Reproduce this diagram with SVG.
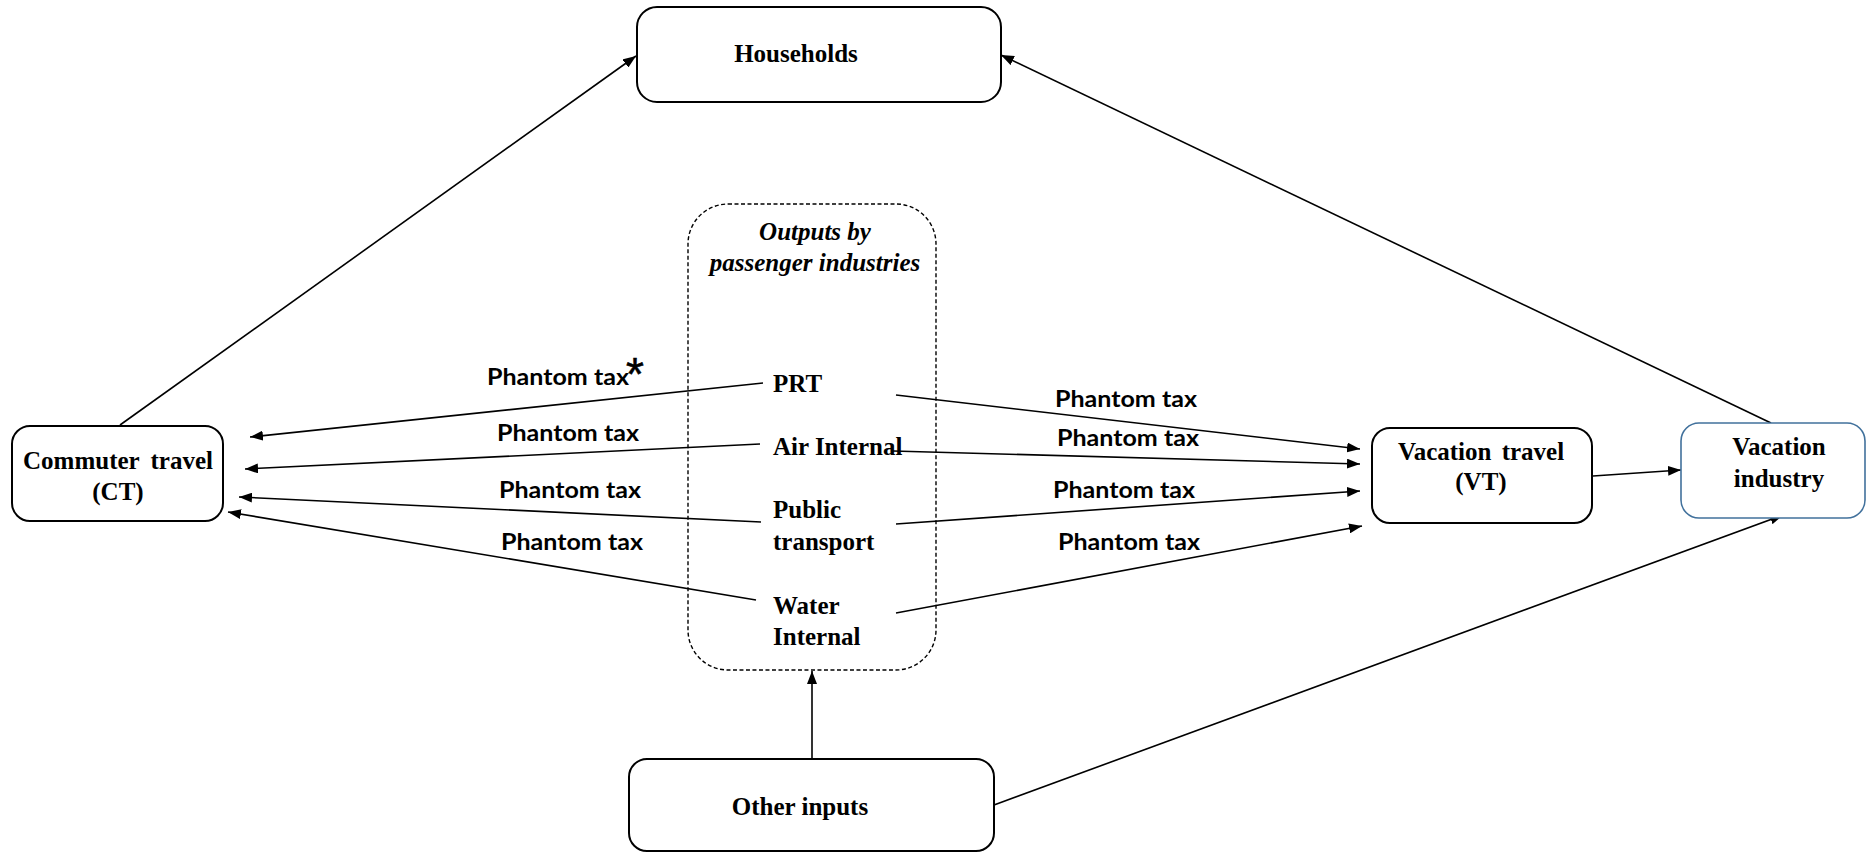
<svg xmlns="http://www.w3.org/2000/svg" width="1867" height="853" viewBox="0 0 1867 853">
<style>
.box{fill:#fff;stroke:#000;stroke-width:2}
.blue{fill:#fff;stroke:#41719C;stroke-width:1.6}
.dash{fill:none;stroke:#000;stroke-width:1.4;stroke-dasharray:4 2.5}
.t{font-family:"Liberation Serif","Times New Roman",serif;font-weight:bold;font-size:25px;fill:#000}
.ti{font-family:"Liberation Serif","Times New Roman",serif;font-weight:bold;font-style:italic;font-size:25px;fill:#000}
.lab{font-family:Lato,"Liberation Sans",sans-serif;font-weight:bold;font-size:22px;fill:#000}
.ast{font-family:"Liberation Sans",Arial,sans-serif;font-weight:normal;font-size:46px;fill:#000;stroke:#000;stroke-width:0.6}
.c{fill:none;stroke:#000;stroke-width:1.6;marker-end:url(#ah)}
</style>
<defs>
<marker id="ah" viewBox="0 0 13 10" refX="13" refY="5" markerWidth="13" markerHeight="10" orient="auto" markerUnits="userSpaceOnUse">
<path d="M0,0 L13,5 L0,10 z" fill="#000"/>
</marker>
</defs>
<rect width="1867" height="853" fill="#fff"/>

<g id="connectors">
<line class="c" x1="120" y1="425" x2="636" y2="56"/>
<line class="c" x1="1771" y1="423" x2="1001" y2="55"/>
<line class="c" x1="1593" y1="476" x2="1681" y2="470"/>
<line class="c" x1="812" y1="759" x2="812" y2="671"/>
<line class="c" x1="994" y1="805" x2="1783" y2="515"/>
<line class="c" x1="763" y1="383" x2="250" y2="437"/>
<line class="c" x1="760" y1="444" x2="245" y2="469"/>
<line class="c" x1="761" y1="522" x2="239" y2="497"/>
<line class="c" x1="756" y1="600" x2="228" y2="512"/>
<line class="c" x1="896" y1="395" x2="1360" y2="449"/>
<line class="c" x1="893" y1="451" x2="1360" y2="464"/>
<line class="c" x1="896" y1="524" x2="1360" y2="491"/>
<line class="c" x1="896" y1="613" x2="1362" y2="526"/>
<text class="lab" x="487" y="385" textLength="142" lengthAdjust="spacingAndGlyphs">Phantom tax</text>
<text class="ast" x="626" y="390">*</text>
<text class="lab" x="497" y="441" textLength="142" lengthAdjust="spacingAndGlyphs">Phantom tax</text>
<text class="lab" x="499" y="498" textLength="142" lengthAdjust="spacingAndGlyphs">Phantom tax</text>
<text class="lab" x="501" y="550" textLength="142" lengthAdjust="spacingAndGlyphs">Phantom tax</text>
<text class="lab" x="1055" y="407" textLength="142" lengthAdjust="spacingAndGlyphs">Phantom tax</text>
<text class="lab" x="1057" y="446" textLength="142" lengthAdjust="spacingAndGlyphs">Phantom tax</text>
<text class="lab" x="1053" y="498" textLength="142" lengthAdjust="spacingAndGlyphs">Phantom tax</text>
<text class="lab" x="1058" y="550" textLength="142" lengthAdjust="spacingAndGlyphs">Phantom tax</text>
</g>

<g id="households">
<rect class="box" x="637" y="7" width="364" height="95" rx="20"/>
<text class="t" x="796" y="62" text-anchor="middle">Households</text>
</g>

<g id="commuter">
<rect class="box" x="12" y="426" width="211" height="95" rx="18"/>
<text class="t" x="118" y="469" text-anchor="middle" word-spacing="5">Commuter travel</text>
<text class="t" x="118" y="500" text-anchor="middle">(CT)</text>
</g>

<g id="outputs">
<rect class="dash" x="688" y="204" width="248" height="466" rx="40"/>
<text class="ti" x="815" y="240" text-anchor="middle">Outputs by</text>
<text class="ti" x="815" y="271" text-anchor="middle">passenger industries</text>
<text class="t" x="773" y="392">PRT</text>
<text class="t" x="773" y="455">Air Internal</text>
<text class="t" x="773" y="518">Public</text>
<text class="t" x="773" y="550">transport</text>
<text class="t" x="773" y="614">Water</text>
<text class="t" x="773" y="645">Internal</text>
</g>

<g id="vacation-travel">
<rect class="box" x="1372" y="428" width="220" height="95" rx="18"/>
<text class="t" x="1481" y="460" text-anchor="middle" word-spacing="4">Vacation travel</text>
<text class="t" x="1481" y="490" text-anchor="middle">(VT)</text>
</g>

<g id="vacation-industry">
<rect class="blue" x="1681" y="423" width="184" height="95" rx="18"/>
<text class="t" x="1779" y="455" text-anchor="middle">Vacation</text>
<text class="t" x="1779" y="487" text-anchor="middle">industry</text>
</g>

<g id="other-inputs">
<rect class="box" x="629" y="759" width="365" height="92" rx="18"/>
<text class="t" x="800" y="815" text-anchor="middle">Other inputs</text>
</g>
</svg>
